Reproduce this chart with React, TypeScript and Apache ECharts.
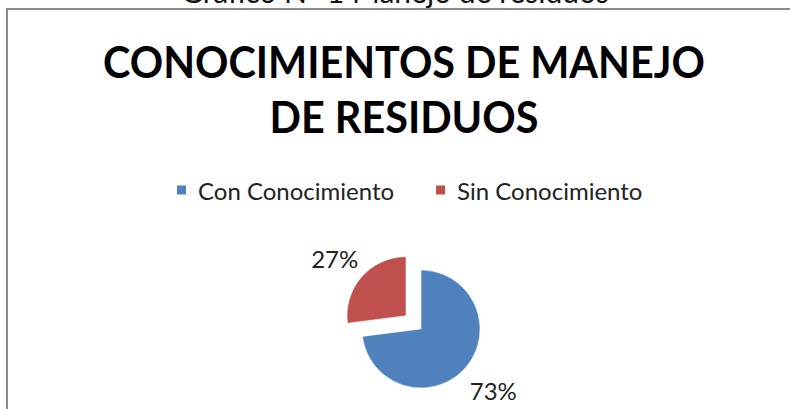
import React, { useEffect, useRef } from "react";
import * as echarts from "echarts";

const categories = ["Con Conocimiento", "Sin Conocimiento"];
const values = [73, 27];
const colors = ["#4F81BD", "#C0504D"];
const titleLines = ["CONOCIMIENTOS DE MANEJO", "DE RESIDUOS"];
const captionText = "Gráfico N° 1 Manejo de residuos";

export default function App() {
  const ref = useRef<HTMLDivElement>(null);
  useEffect(() => {
    document.body.style.margin = "0";
    const chart = echarts.init(ref.current!, null, { renderer: "svg" });
    const font = "Lato, 'Open Sans', sans-serif";
    const labelShift = [
      { dx: -9, dy: 19 },
      { dx: 10, dy: -14 },
    ];
    chart.setOption({
      animation: false,
      backgroundColor: "#ffffff",
      legend: {
        data: categories,
        top: 173,
        left: 170,
        itemWidth: 11,
        itemHeight: 11,
        itemGap: 40,
        icon: "rect",
        textStyle: {
          fontFamily: font,
          fontSize: 24,
          color: "#222222",
          padding: [0, 0, 0, 6],
        },
      },
      graphic: [
        {
          type: "rect",
          shape: { x: 7, y: 9, width: 800, height: 420 },
          style: { fill: "none", stroke: "#8a8a8a", lineWidth: 2 },
          silent: true,
        },
        {
          type: "text",
          x: 395,
          y: 6,
          style: {
            text: captionText,
            fontFamily: font,
            fontSize: 30,
            fill: "#111111",
            textAlign: "center",
            textVerticalAlign: "bottom",
          },
          silent: true,
        },
        {
          type: "text",
          x: 404,
          y: 33,
          scaleX: 0.94,
          style: {
            text: titleLines.join("\n"),
            fontFamily: font,
            fontWeight: "bold",
            fontSize: 44,
            lineHeight: 55,
            fill: "#000000",
            textAlign: "center",
            textVerticalAlign: "top",
          },
          silent: true,
        },
      ],
      series: [
        {
          type: "pie",
          center: [421, 329],
          radius: 59,
          startAngle: 90,
          clockwise: true,
          selectedMode: "single",
          selectedOffset: 20,
          label: {
            show: true,
            position: "outside",
            formatter: "{d}%",
            fontFamily: font,
            fontSize: 24,
            color: "#222222",
          },
          labelLine: { show: false, length: 6, length2: 4 },
          labelLayout: (p: any) => labelShift[p.dataIndex],
          itemStyle: { borderColor: "#ffffff", borderWidth: 0.5 },
          emphasis: { disabled: true },
          data: categories.map((name, i) => ({
            name,
            value: values[i],
            selected: i === 1,
            itemStyle: { color: colors[i] },
          })),
        },
      ],
    });
    return () => chart.dispose();
  }, []);
  return (
    <div
      ref={ref}
      style={{ position: "fixed", left: 0, top: 0, width: 790, height: 409 }}
    />
  );
}
